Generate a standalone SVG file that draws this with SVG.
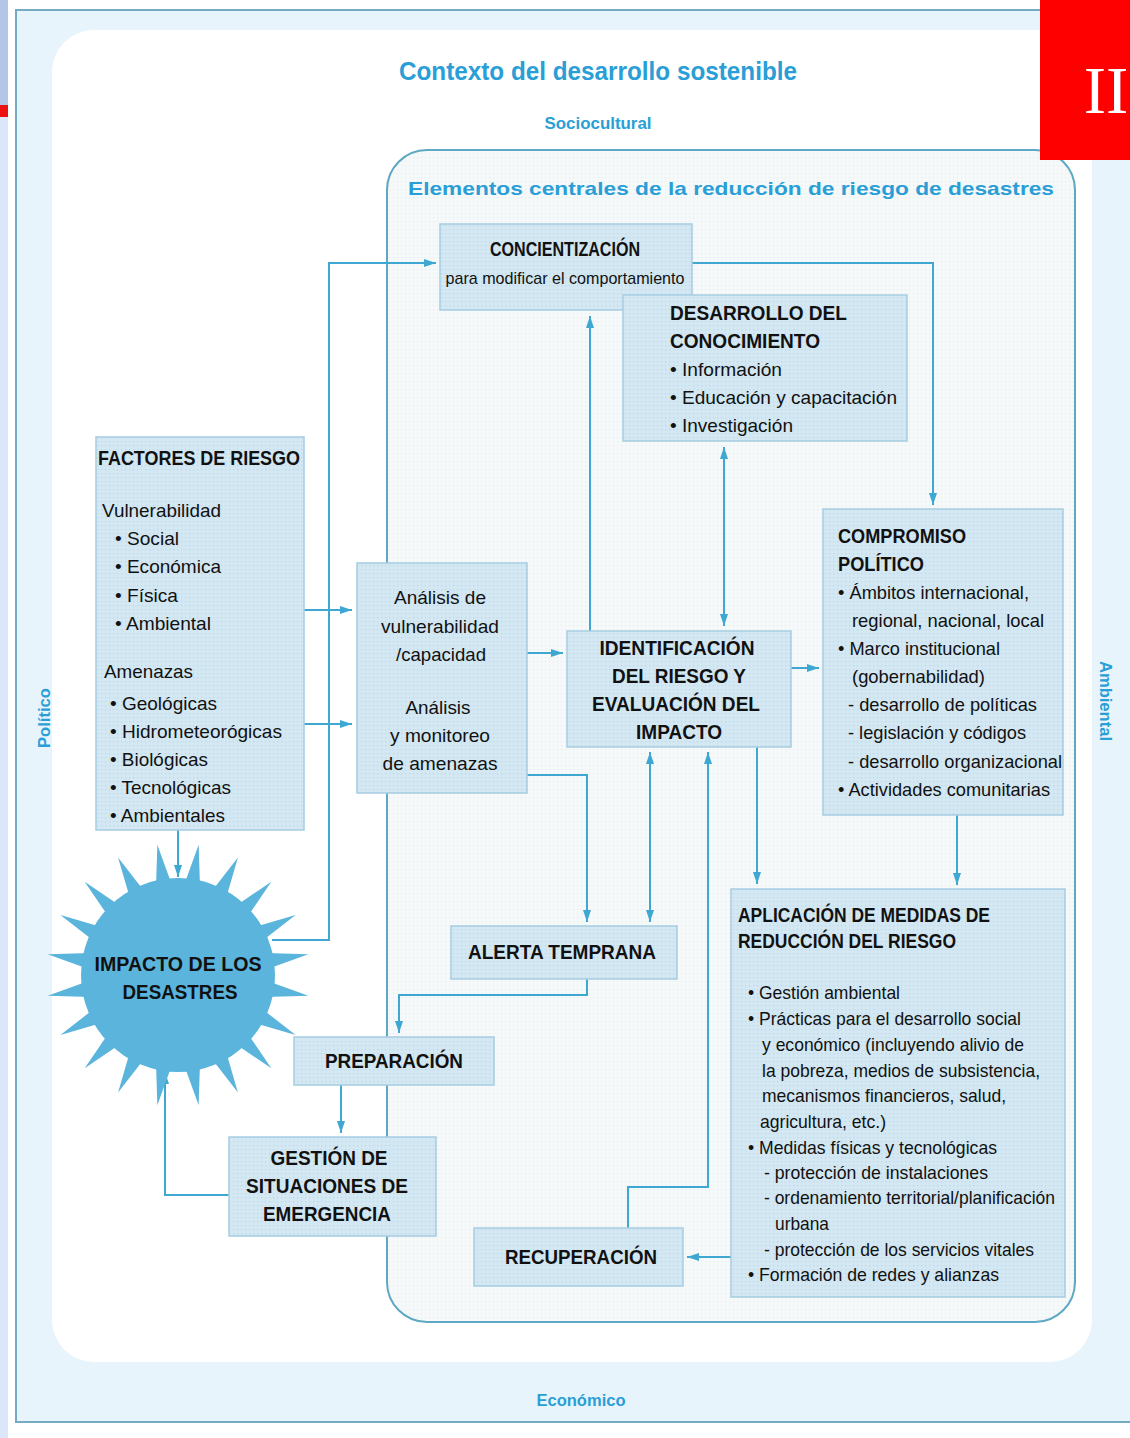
<svg xmlns="http://www.w3.org/2000/svg" xmlns:xlink="http://www.w3.org/1999/xlink" width="1130" height="1438" viewBox="0 0 1130 1438">
<style>
.box{fill:url(#boxdots);stroke:#a7cde2;stroke-width:1.5}
.b{font-family:"Liberation Sans",Arial,sans-serif;font-weight:bold;font-size:20px;fill:#111}
.r{font-family:"Liberation Sans",Arial,sans-serif;font-size:19px;fill:#111}
.s{font-family:"Liberation Sans",Arial,sans-serif;font-size:17px;fill:#111}
.ttl{font-family:"Liberation Sans",Arial,sans-serif;font-weight:bold;fill:#2a9ed6}
.c{text-anchor:middle}
.con{fill:none;stroke:#3fa8d2;stroke-width:2}
</style>
<defs>
<pattern id="boxdots" width="4" height="4" patternUnits="userSpaceOnUse">
<rect width="4" height="4" fill="#d3e8f3"/>
<rect x="1" y="1" width="1.3" height="1.3" fill="#bcd9e9"/>
</pattern>
<pattern id="bgdots" width="4" height="4" patternUnits="userSpaceOnUse">
<rect width="4" height="4" fill="#f6f9fa"/>
<rect x="1" y="1" width="1.2" height="1.2" fill="#e4ecef"/>
</pattern>
<marker id="arr" viewBox="0 0 12 8" refX="12" refY="4" markerWidth="12" markerHeight="8" markerUnits="userSpaceOnUse" orient="auto-start-reverse">
<path d="M0,0 L12,4 L0,8 z" fill="#3fa8d2"/>
</marker>
<polygon id="spike" points="0,-132 -8,-90 8,-90" fill="#5ab4dc"/>
</defs>

<!-- page background -->
<rect x="0" y="0" width="1130" height="1438" fill="#ffffff"/>
<rect x="0" y="0" width="8" height="105" fill="#b4c6e6"/>
<rect x="0" y="105" width="8" height="12" fill="#ee1111"/>
<rect x="0" y="117" width="8" height="1321" fill="#dbe6f8"/>
<rect x="16" y="10" width="1124" height="1412" fill="#e8f4fb" stroke="#74aac2" stroke-width="2"/>
<rect x="52" y="30" width="1040" height="1332" rx="42" fill="#ffffff"/>

<text class="ttl" x="598" y="80" font-size="25" text-anchor="middle" textLength="398" lengthAdjust="spacingAndGlyphs" font-weight="normal">Contexto del desarrollo sostenible</text>
<text class="ttl" x="598" y="129" font-size="17" text-anchor="middle" textLength="107" lengthAdjust="spacingAndGlyphs">Sociocultural</text>
<text class="ttl" x="581" y="1406" font-size="17" text-anchor="middle" textLength="89" lengthAdjust="spacingAndGlyphs">Económico</text>
<text class="ttl" font-size="17" text-anchor="middle" textLength="60" lengthAdjust="spacingAndGlyphs" transform="translate(50,718) rotate(-90)">Político</text>
<text class="ttl" font-size="17" text-anchor="middle" textLength="80" lengthAdjust="spacingAndGlyphs" transform="translate(1100,701) rotate(90)">Ambiental</text>

<!-- central region -->
<g id="elementos">
<rect x="387" y="150" width="688" height="1172" rx="40" fill="url(#bgdots)" stroke="#5ea8c3" stroke-width="2"/>
<text class="ttl" x="408" y="195" font-size="19" textLength="646" lengthAdjust="spacingAndGlyphs">Elementos centrales de la reducción de riesgo de desastres</text>
</g>

<!-- red label -->
<rect x="1040" y="0" width="90" height="160" fill="#ff0000"/>
<text x="1106" y="113" font-family="Liberation Serif,serif" font-size="67" fill="#ffffff" text-anchor="middle">II</text>

<!-- connectors -->
<g id="connectors">
<path class="con" d="M304 610 H352" marker-end="url(#arr)"/>
<path class="con" d="M304 724 H352" marker-end="url(#arr)"/>
<path class="con" d="M272 940 H329 V263 H436" marker-end="url(#arr)"/>
<path class="con" d="M527 653 H563" marker-end="url(#arr)"/>
<path class="con" d="M791 668 H819" marker-end="url(#arr)"/>
<path class="con" d="M692 263 H933 V505" marker-end="url(#arr)"/>
<path class="con" d="M590 631 V316" marker-end="url(#arr)"/>
<path class="con" d="M724 447 V626" marker-start="url(#arr)" marker-end="url(#arr)"/>
<path class="con" d="M650 752 V922" marker-start="url(#arr)" marker-end="url(#arr)"/>
<path class="con" d="M628 1228 V1187 H708 V752" marker-end="url(#arr)"/>
<path class="con" d="M757 747 V884" marker-end="url(#arr)"/>
<path class="con" d="M957 815 V885" marker-end="url(#arr)"/>
<path class="con" d="M527 775 H587 V922" marker-end="url(#arr)"/>
<path class="con" d="M587 979 V995 H399 V1033" marker-end="url(#arr)"/>
<path class="con" d="M341 1085 V1133" marker-end="url(#arr)"/>
<path class="con" d="M229 1195 H165 V1072" marker-end="url(#arr)"/>
<path class="con" d="M178 830 V877" marker-end="url(#arr)"/>
<path class="con" d="M731 1257 H687" marker-end="url(#arr)"/>
</g>

<!-- star -->
<g id="impacto">
<g transform="translate(178,975)">
<use xlink:href="#spike" transform="rotate(9)"/>
<use xlink:href="#spike" transform="rotate(27)"/>
<use xlink:href="#spike" transform="rotate(45)"/>
<use xlink:href="#spike" transform="rotate(63)"/>
<use xlink:href="#spike" transform="rotate(81)"/>
<use xlink:href="#spike" transform="rotate(99)"/>
<use xlink:href="#spike" transform="rotate(117)"/>
<use xlink:href="#spike" transform="rotate(135)"/>
<use xlink:href="#spike" transform="rotate(153)"/>
<use xlink:href="#spike" transform="rotate(171)"/>
<use xlink:href="#spike" transform="rotate(189)"/>
<use xlink:href="#spike" transform="rotate(207)"/>
<use xlink:href="#spike" transform="rotate(225)"/>
<use xlink:href="#spike" transform="rotate(243)"/>
<use xlink:href="#spike" transform="rotate(261)"/>
<use xlink:href="#spike" transform="rotate(279)"/>
<use xlink:href="#spike" transform="rotate(297)"/>
<use xlink:href="#spike" transform="rotate(315)"/>
<use xlink:href="#spike" transform="rotate(333)"/>
<use xlink:href="#spike" transform="rotate(351)"/>
<circle r="97" fill="#5ab4dc"/>
</g>
<text class="b c" x="178" y="971" textLength="167" lengthAdjust="spacingAndGlyphs">IMPACTO DE  LOS</text>
<text class="b c" x="180" y="999" textLength="115" lengthAdjust="spacingAndGlyphs">DESASTRES</text>
</g>

<g id="concientizacion">
<rect class="box" x="440" y="224" width="252" height="86"/>
<text class="b c" x="565" y="256" textLength="150" lengthAdjust="spacingAndGlyphs">CONCIENTIZACIÓN</text>
<text class="s c" x="565" y="284" textLength="239" lengthAdjust="spacingAndGlyphs">para modificar el comportamiento</text>
</g>

<g id="desarrollo">
<rect class="box" x="623" y="295" width="284" height="146"/>
<text class="b" x="670" y="320" textLength="177" lengthAdjust="spacingAndGlyphs">DESARROLLO DEL</text>
<text class="b" x="670" y="348" textLength="150" lengthAdjust="spacingAndGlyphs">CONOCIMIENTO</text>
<text class="r" x="670" y="376" textLength="112" lengthAdjust="spacingAndGlyphs">• Información</text>
<text class="r" x="670" y="404" textLength="227" lengthAdjust="spacingAndGlyphs">• Educación y capacitación</text>
<text class="r" x="670" y="432" textLength="123" lengthAdjust="spacingAndGlyphs">• Investigación</text>
</g>

<g id="factores">
<rect class="box" x="96" y="437" width="208" height="393"/>
<text class="b" x="98" y="465" textLength="202" lengthAdjust="spacingAndGlyphs">FACTORES DE RIESGO</text>
<text class="r" x="102" y="517" textLength="119" lengthAdjust="spacingAndGlyphs">Vulnerabilidad</text>
<text class="r" x="115" y="545" textLength="64" lengthAdjust="spacingAndGlyphs">• Social</text>
<text class="r" x="115" y="573" textLength="106" lengthAdjust="spacingAndGlyphs">• Económica</text>
<text class="r" x="115" y="602" textLength="63" lengthAdjust="spacingAndGlyphs">• Física</text>
<text class="r" x="115" y="630" textLength="96" lengthAdjust="spacingAndGlyphs">• Ambiental</text>
<text class="r" x="104" y="678" textLength="89" lengthAdjust="spacingAndGlyphs">Amenazas</text>
<text class="r" x="110" y="710" textLength="107" lengthAdjust="spacingAndGlyphs">• Geológicas</text>
<text class="r" x="110" y="738" textLength="172" lengthAdjust="spacingAndGlyphs">• Hidrometeorógicas</text>
<text class="r" x="110" y="766" textLength="98" lengthAdjust="spacingAndGlyphs">• Biológicas</text>
<text class="r" x="110" y="794" textLength="121" lengthAdjust="spacingAndGlyphs">• Tecnológicas</text>
<text class="r" x="110" y="822" textLength="115" lengthAdjust="spacingAndGlyphs">• Ambientales</text>
</g>

<g id="analisis">
<rect class="box" x="357" y="563" width="170" height="230"/>
<text class="r c" x="440" y="604" textLength="92" lengthAdjust="spacingAndGlyphs">Análisis de</text>
<text class="r c" x="440" y="633" textLength="118" lengthAdjust="spacingAndGlyphs">vulnerabilidad</text>
<text class="r c" x="441" y="661" textLength="90" lengthAdjust="spacingAndGlyphs">/capacidad</text>
<text class="r c" x="438" y="714" textLength="65" lengthAdjust="spacingAndGlyphs">Análisis</text>
<text class="r c" x="440" y="742" textLength="100" lengthAdjust="spacingAndGlyphs">y monitoreo</text>
<text class="r c" x="440" y="770" textLength="115" lengthAdjust="spacingAndGlyphs">de amenazas</text>
</g>

<g id="identificacion">
<rect class="box" x="567" y="631" width="224" height="116"/>
<text class="b c" x="677" y="655" textLength="155" lengthAdjust="spacingAndGlyphs">IDENTIFICACIÓN</text>
<text class="b c" x="679" y="683" textLength="134" lengthAdjust="spacingAndGlyphs">DEL RIESGO Y</text>
<text class="b c" x="676" y="711" textLength="168" lengthAdjust="spacingAndGlyphs">EVALUACIÓN DEL</text>
<text class="b c" x="679" y="739" textLength="86" lengthAdjust="spacingAndGlyphs">IMPACTO</text>
</g>

<g id="compromiso">
<rect class="box" x="823" y="509" width="240" height="306"/>
<text class="b" x="838" y="543" textLength="128" lengthAdjust="spacingAndGlyphs">COMPROMISO</text>
<text class="b" x="838" y="571" textLength="86" lengthAdjust="spacingAndGlyphs">POLÍTICO</text>
<text class="r" x="838" y="599" textLength="191" lengthAdjust="spacingAndGlyphs">• Ámbitos internacional,</text>
<text class="r" x="852" y="627" textLength="192" lengthAdjust="spacingAndGlyphs">regional, nacional, local</text>
<text class="r" x="838" y="655" textLength="162" lengthAdjust="spacingAndGlyphs">• Marco institucional</text>
<text class="r" x="852" y="683" textLength="133" lengthAdjust="spacingAndGlyphs">(gobernabilidad)</text>
<text class="r" x="848" y="711" textLength="189" lengthAdjust="spacingAndGlyphs">- desarrollo de políticas</text>
<text class="r" x="848" y="739" textLength="178" lengthAdjust="spacingAndGlyphs">- legislación y códigos</text>
<text class="r" x="848" y="768" textLength="214" lengthAdjust="spacingAndGlyphs">- desarrollo organizacional</text>
<text class="r" x="838" y="796" textLength="212" lengthAdjust="spacingAndGlyphs">• Actividades comunitarias</text>
</g>

<g id="alerta">
<rect class="box" x="451" y="926" width="226" height="53"/>
<text class="b c" x="562" y="959" textLength="188" lengthAdjust="spacingAndGlyphs">ALERTA TEMPRANA</text>
</g>

<g id="preparacion">
<rect class="box" x="294" y="1037" width="200" height="48"/>
<text class="b c" x="394" y="1068" textLength="138" lengthAdjust="spacingAndGlyphs">PREPARACIÓN</text>
</g>

<g id="gestion">
<rect class="box" x="229" y="1137" width="207" height="99"/>
<text class="b c" x="329" y="1165" textLength="117" lengthAdjust="spacingAndGlyphs">GESTIÓN DE</text>
<text class="b c" x="327" y="1193" textLength="162" lengthAdjust="spacingAndGlyphs">SITUACIONES DE</text>
<text class="b c" x="327" y="1221" textLength="128" lengthAdjust="spacingAndGlyphs">EMERGENCIA</text>
</g>

<g id="recuperacion">
<rect class="box" x="474" y="1228" width="209" height="58"/>
<text class="b c" x="581" y="1264" textLength="152" lengthAdjust="spacingAndGlyphs">RECUPERACIÓN</text>
</g>

<g id="aplicacion">
<rect class="box" x="731" y="889" width="334" height="408"/>
<text class="b" x="738" y="922" textLength="252" lengthAdjust="spacingAndGlyphs">APLICACIÓN DE MEDIDAS DE</text>
<text class="b" x="738" y="948" textLength="218" lengthAdjust="spacingAndGlyphs">REDUCCIÓN DEL RIESGO</text>
<text class="r" x="748" y="999" textLength="152" lengthAdjust="spacingAndGlyphs">• Gestión ambiental</text>
<text class="r" x="748" y="1025" textLength="273" lengthAdjust="spacingAndGlyphs">• Prácticas para el desarrollo social</text>
<text class="r" x="762" y="1051" textLength="262" lengthAdjust="spacingAndGlyphs">y económico (incluyendo alivio de</text>
<text class="r" x="762" y="1077" textLength="278" lengthAdjust="spacingAndGlyphs">la pobreza, medios de subsistencia,</text>
<text class="r" x="762" y="1102" textLength="244" lengthAdjust="spacingAndGlyphs">mecanismos financieros, salud,</text>
<text class="r" x="760" y="1128" textLength="126" lengthAdjust="spacingAndGlyphs">agricultura, etc.)</text>
<text class="r" x="748" y="1154" textLength="249" lengthAdjust="spacingAndGlyphs">• Medidas físicas y tecnológicas</text>
<text class="r" x="764" y="1179" textLength="224" lengthAdjust="spacingAndGlyphs">- protección de instalaciones</text>
<text class="r" x="764" y="1204" textLength="291" lengthAdjust="spacingAndGlyphs">- ordenamiento territorial/planificación</text>
<text class="r" x="775" y="1230" textLength="54" lengthAdjust="spacingAndGlyphs">urbana</text>
<text class="r" x="764" y="1256" textLength="270" lengthAdjust="spacingAndGlyphs">- protección de los servicios vitales</text>
<text class="r" x="748" y="1281" textLength="251" lengthAdjust="spacingAndGlyphs">• Formación de redes y alianzas</text>
</g>
</svg>
